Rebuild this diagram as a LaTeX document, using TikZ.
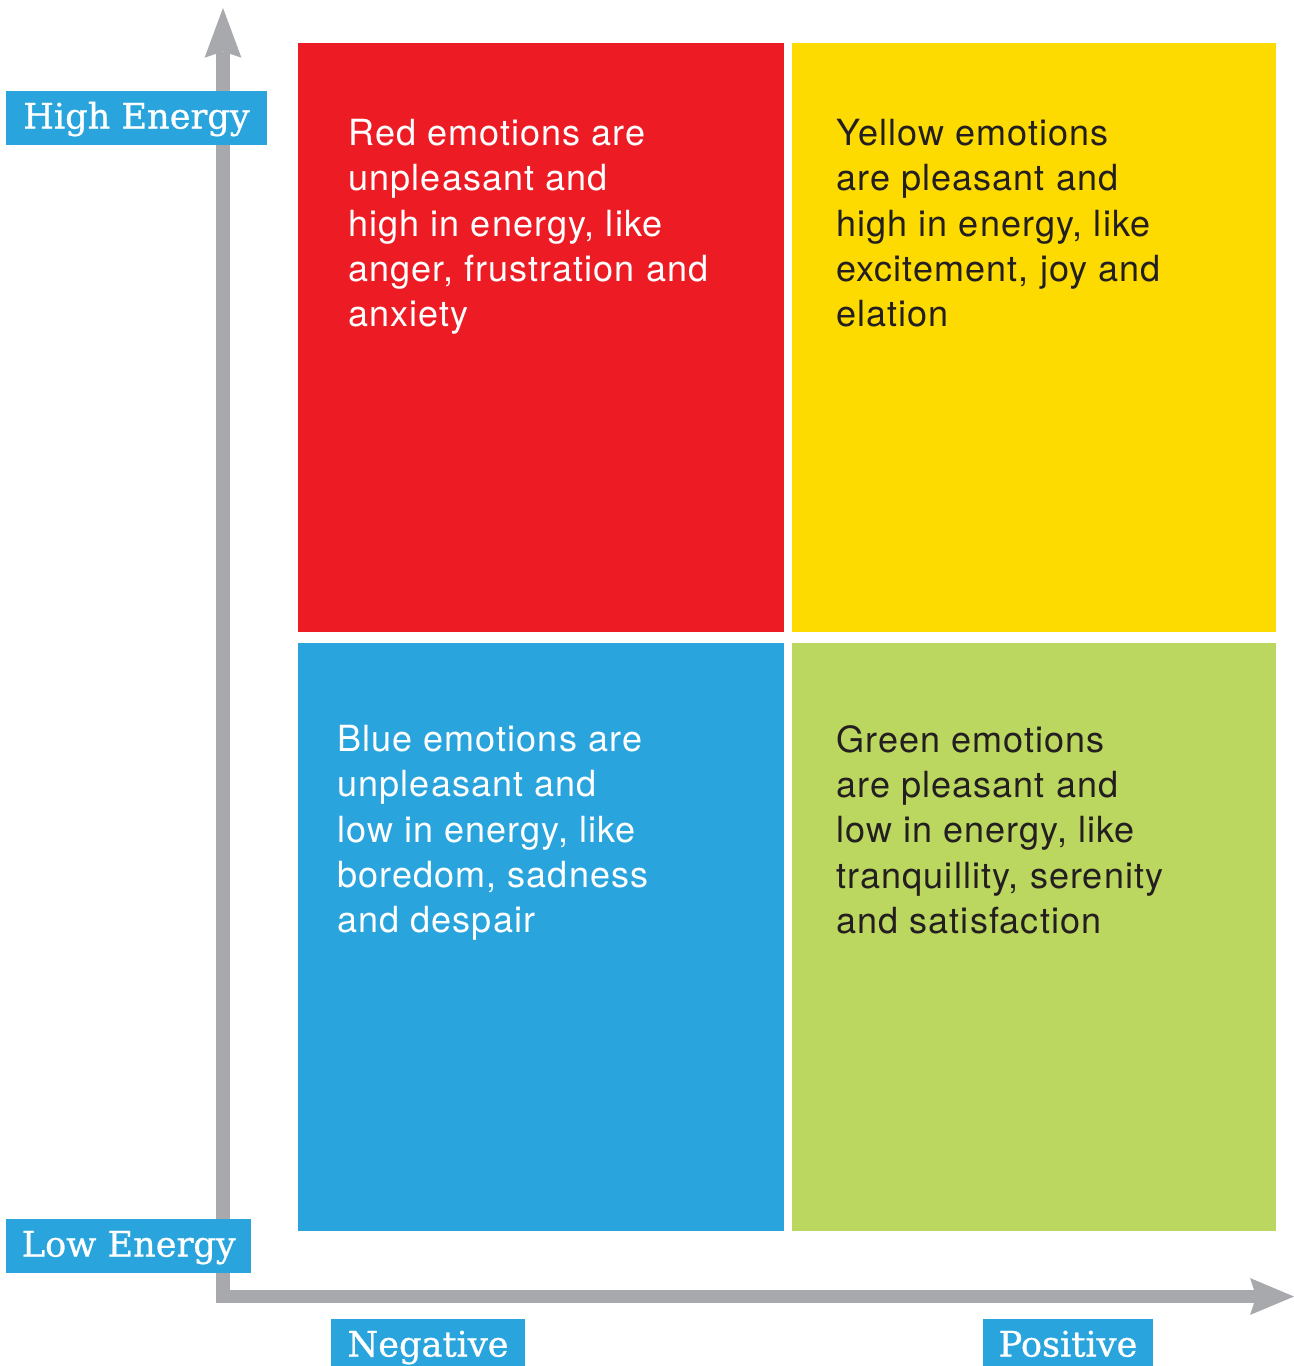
\documentclass[tikz,border=0pt]{standalone}
\usepackage{fontspec}
\usetikzlibrary{arrows.meta}
\setmainfont[LetterSpace=3]{TeX Gyre Heros}
\newfontfamily\slab[FakeBold=0.8]{DejaVu Serif}

\definecolor{rot}{HTML}{ED1C24}
\definecolor{gelb}{HTML}{FDDB00}
\definecolor{blau}{HTML}{29A4DC}
\definecolor{gruen}{HTML}{BCD75F}
\definecolor{grau}{HTML}{A7A9AC}
\definecolor{dunkel}{HTML}{231F20}

\def\feld#1#2#3#4#5{
	\fill[color=#5] (#1,#2) rectangle (#3,#4);
}

\begin{document}
\begin{tikzpicture}[x=0.02cm,y=-0.02cm,
	achse/.style={line width=7.5pt,color=grau,line join=miter},
	schild/.style={fill=blau,text=white,inner sep=0pt,minimum height=30.6pt,
		text height=14.5pt,text depth=2.5pt,font=\slab\fontsize{20}{24}\selectfont},
	info/.style={anchor=north west,align=left,inner sep=0pt,
		font=\fontsize{20.5}{25.8}\selectfont}]

\useasboundingbox (0,0) rectangle (1294,1366);

\feld{298}{43}{784}{632}{rot}
\feld{792}{43}{1276}{632}{gelb}
\feld{298}{643}{784}{1231}{blau}
\feld{792}{643}{1276}{1231}{gruen}

\node[info,text=white] (trot) at (348,119) {Red emotions are\\unpleasant and\\high in energy, like\\anger, frustration and\\anxiety};
\node[info,text=dunkel] (tgelb) at (836,119) {Yellow emotions\\are pleasant and\\high in energy, like\\excitement, joy and\\elation};
\node[info,text=white] (tblau) at (337,725) {Blue emotions are\\unpleasant and\\low in energy, like\\boredom, sadness\\and despair};
\node[info,text=dunkel] (tgruen) at (836,725) {Green emotions\\are pleasant and\\low in energy, like\\tranquillity, serenity\\and satisfaction};

\coordinate (ursprung) at (223,1296.5);
\coordinate (oben) at (223,8);
\coordinate (rechts) at (1294,1296.5);
\draw[achse,{Stealth[length=28.3pt,width=21pt,inset=3.5pt,line width=0pt]}-{Stealth[length=25pt,width=21pt,inset=3.5pt,line width=0pt]}]
	(oben) -- (ursprung) -- (rechts);

\node[schild,minimum width=148pt] (hoch) at (136.5,118) {High Energy};
\node[schild,minimum width=139.2pt] (tief) at (128.75,1246) {Low Energy};
\node[schild,minimum width=110pt] (neg) at (428,1346) {Negative};
\node[schild,minimum width=96.4pt] (pos) at (1068,1346) {Positive};

\end{tikzpicture}
\end{document}
